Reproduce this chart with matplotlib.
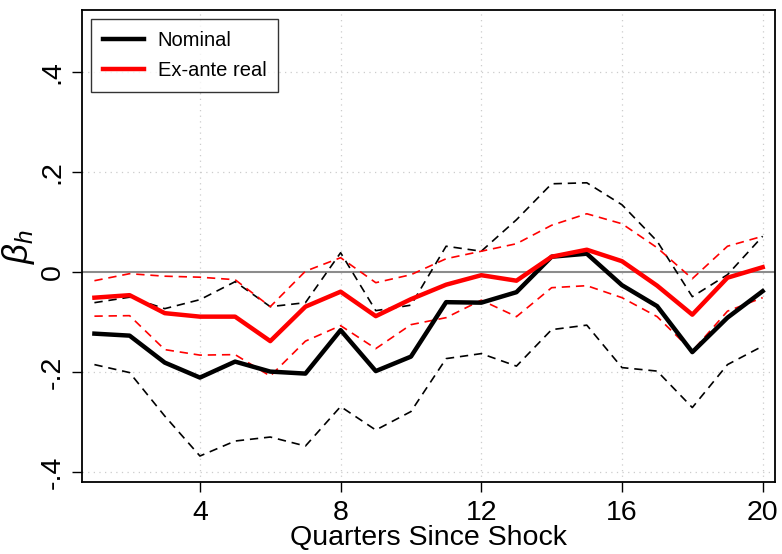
import matplotlib
matplotlib.use("Agg")
import matplotlib.pyplot as plt

quarters = list(range(1, 21))
nominal = [-0.123, -0.127, -0.181, -0.211, -0.179, -0.199, -0.203, -0.116, -0.198, -0.169,
           -0.060, -0.061, -0.040, 0.031, 0.037, -0.026, -0.068, -0.160, -0.091, -0.038]
nominal_hi = [-0.061, -0.050, -0.073, -0.055, -0.019, -0.069, -0.061, 0.039, -0.077, -0.066,
              0.052, 0.042, 0.105, 0.177, 0.179, 0.135, 0.062, -0.049, -0.005, 0.072]
nominal_lo = [-0.185, -0.201, -0.288, -0.368, -0.338, -0.330, -0.348, -0.269, -0.316, -0.279,
              -0.173, -0.163, -0.188, -0.115, -0.106, -0.191, -0.198, -0.271, -0.185, -0.148]
real = [-0.051, -0.046, -0.082, -0.089, -0.089, -0.138, -0.069, -0.039, -0.088, -0.054,
        -0.025, -0.006, -0.017, 0.031, 0.045, 0.022, -0.027, -0.085, -0.011, 0.010]
real_hi = [-0.017, -0.003, -0.008, -0.010, -0.015, -0.069, 0.002, 0.029, -0.021, -0.005,
           0.027, 0.042, 0.057, 0.094, 0.117, 0.097, 0.049, -0.013, 0.052, 0.072]
real_lo = [-0.088, -0.087, -0.155, -0.166, -0.165, -0.208, -0.138, -0.107, -0.153, -0.105,
           -0.091, -0.056, -0.089, -0.031, -0.027, -0.051, -0.089, -0.158, -0.078, -0.051]

xticks = [4, 8, 12, 16, 20]
yticks = [-0.4, -0.2, 0, 0.2, 0.4]
ytick_labels = ["-.4", "-.2", "0", ".2", ".4"]

plt.rcParams['font.family'] = ['Liberation Sans', 'DejaVu Sans']
plt.rcParams['mathtext.fontset'] = 'custom'
plt.rcParams['mathtext.it'] = 'Liberation Sans:italic'
plt.rcParams['mathtext.rm'] = 'Liberation Sans'

fig = plt.figure(figsize=(7.82, 5.54), dpi=100)
ax = fig.add_axes([0.105, 0.13, 0.886, 0.852])

for y in [-0.4, -0.2, 0.2, 0.4]:
    ax.axhline(y, color='#cccccc', lw=0.9, ls=(0, (1, 3.5)), zorder=0)
for x in xticks:
    ax.axvline(x, color='#cccccc', lw=0.9, ls=(0, (1, 3.5)), zorder=0)
ax.axhline(0, color='#8c8c8c', lw=1.5, zorder=1)

dash = (0, (5, 3.5))
ax.plot(quarters, nominal_hi, color='black', lw=1.2, ls=dash, zorder=2)
ax.plot(quarters, nominal_lo, color='black', lw=1.2, ls=dash, zorder=2)
ax.plot(quarters, real_hi, color='red', lw=1.2, ls=dash, zorder=2)
ax.plot(quarters, real_lo, color='red', lw=1.2, ls=dash, zorder=2)
ax.plot(quarters, nominal, color='black', lw=3.2, label='Nominal', zorder=3)
ax.plot(quarters, real, color='red', lw=3.2, label='Ex-ante real', zorder=4)

ax.set_xlim(0.65, 20.35)
ax.set_ylim(-0.42, 0.525)
ax.set_xticks(xticks)
ax.set_xticklabels([str(t) for t in xticks], fontsize=20.5)
ax.set_yticks(yticks)
ax.set_yticklabels(ytick_labels, fontsize=20.5, rotation=90, va='center')
ax.tick_params(axis='both', direction='out', length=7, width=1.0, color='black')
ax.tick_params(axis='x', pad=6)
ax.tick_params(axis='y', pad=5)
for s in ax.spines.values():
    s.set_linewidth(1.3)
    s.set_color('black')

ax.set_xlabel('Quarters Since Shock', fontsize=20.5, labelpad=-1)
ax.set_ylabel(r'$\beta_h$', fontsize=25, labelpad=2)

leg = ax.legend(loc='upper left', fontsize=14.5, frameon=True, fancybox=False,
                edgecolor='black', handlelength=2.0, handletextpad=0.7,
                borderpad=0.6, labelspacing=0.55, borderaxespad=0.45)
leg.get_frame().set_linewidth(1.0)

fig.savefig('out.png', dpi=100)
